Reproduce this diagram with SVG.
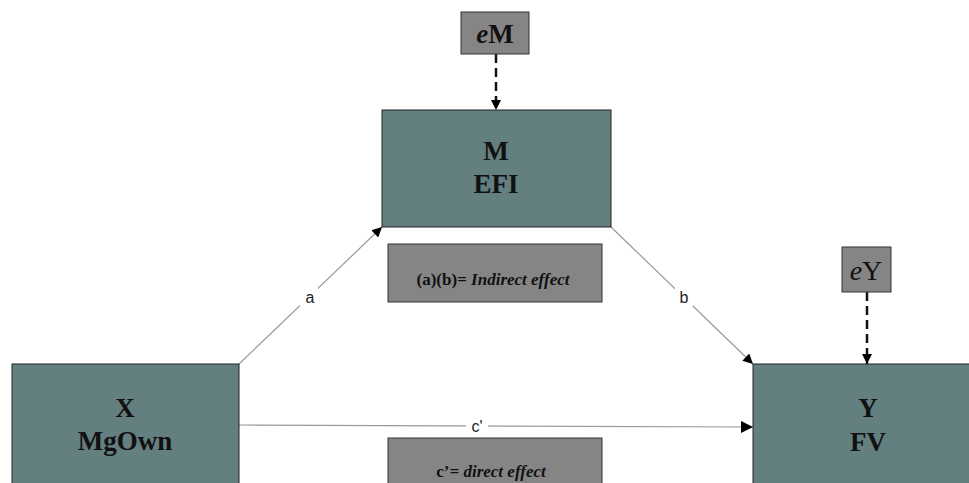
<svg xmlns="http://www.w3.org/2000/svg" width="969" height="483" viewBox="0 0 969 483">
<style>
.big{fill:#637f7f;stroke:#222;stroke-width:1}
.small{fill:#858585;stroke:#333;stroke-width:1}
.t{font-family:"Liberation Serif",serif;font-weight:bold;font-size:27px;fill:#111;text-anchor:middle}
.lab{font-family:"Liberation Sans",sans-serif;font-size:16px;fill:#222;text-anchor:middle}
.note{font-family:"Liberation Serif",serif;font-weight:bold;font-size:17px;fill:#111;text-anchor:middle}
.ln{stroke:#999;stroke-width:1.2;fill:none}
.dash{stroke:#111;stroke-width:2.5;stroke-dasharray:9,5;fill:none}
</style>
<defs>
<marker id="ah" viewBox="0 0 10 10" refX="10" refY="5" markerWidth="10" markerHeight="10" markerUnits="userSpaceOnUse" orient="auto">
<path d="M0,0 L10,5 L0,10 z" fill="#000"/>
</marker>
<marker id="ah2" viewBox="0 0 10 10" refX="10" refY="5" markerWidth="14" markerHeight="12" markerUnits="userSpaceOnUse" orient="auto">
<path d="M0,0 L10,5 L0,10 z" fill="#000"/>
</marker>
</defs>
<g id="connectors">
<line class="ln" x1="239" y1="364" x2="382" y2="227" marker-end="url(#ah)"/>
<line class="ln" x1="611" y1="227" x2="753" y2="364" marker-end="url(#ah)"/>
<line class="ln" x1="239" y1="425" x2="753" y2="427" marker-end="url(#ah2)"/>
<line class="dash" x1="496" y1="54" x2="496" y2="110" marker-end="url(#ah)"/>
<line class="dash" x1="867" y1="292" x2="867" y2="364" marker-end="url(#ah)"/>
<rect x="300" y="288" width="18" height="18" fill="#fff"/>
<text class="lab" x="310" y="303">a</text>
<rect x="675" y="288" width="18" height="18" fill="#fff"/>
<text class="lab" x="684" y="303">b</text>
<rect x="466" y="416" width="22" height="18" fill="#fff"/>
<text class="lab" x="477" y="432">c'</text>
</g>
<g id="eM">
<rect class="small" x="461" y="12" width="68" height="42"/>
<text class="t" x="495" y="43" font-size="28"><tspan font-style="italic">e</tspan>M</text>
</g>
<g id="M">
<rect class="big" x="382" y="110" width="229" height="117"/>
<text class="t" x="496" y="160">M</text>
<text class="t" x="496" y="193">EFI</text>
</g>
<g id="indirect">
<rect class="small" x="388" y="244" width="214" height="58"/>
<text class="note" x="493" y="285">(a)(b)= <tspan font-style="italic">Indirect effect</tspan></text>
</g>
<g id="direct">
<rect class="small" x="388" y="438" width="214" height="60"/>
<text class="note" x="491" y="477">c’= <tspan font-style="italic">direct effect</tspan></text>
</g>
<g id="X">
<rect class="big" x="12" y="364" width="227" height="130"/>
<text class="t" x="125" y="417">X</text>
<text class="t" x="125" y="450">MgOwn</text>
</g>
<g id="eY">
<rect class="small" x="842" y="247" width="49" height="45"/>
<text x="866" y="280" font-family="Liberation Serif,serif" font-size="28" fill="#111" text-anchor="middle"><tspan font-style="italic">e</tspan>Y</text>
</g>
<g id="Y">
<rect class="big" x="753" y="364" width="226" height="130"/>
<text class="t" x="868" y="417">Y</text>
<text class="t" x="868" y="451">FV</text>
</g>
</svg>
